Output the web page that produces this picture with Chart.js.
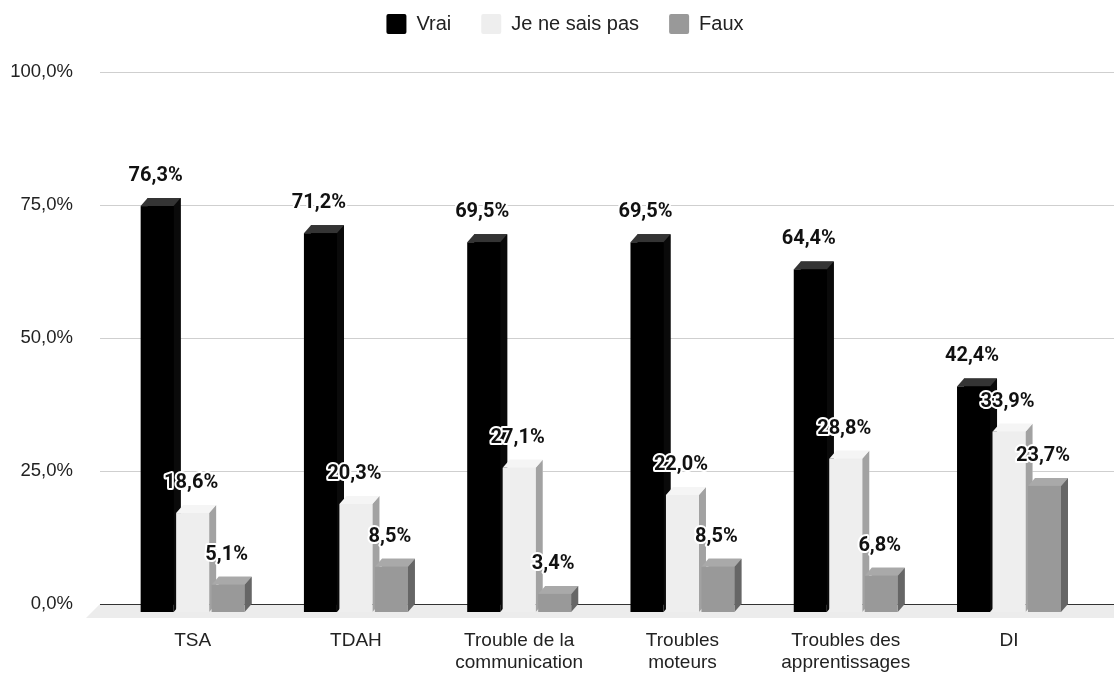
<!DOCTYPE html>
<html>
<head>
<meta charset="utf-8">
<script src="https://cdn.jsdelivr.net/npm/chart.js@4.4.1/dist/chart.umd.min.js"></script>
<style>
  html, body { margin: 0; padding: 0; background: #ffffff; overflow: hidden; }
  #wrap { position: relative; width: 1114px; height: 675px; }
</style>
</head>
<body>
<div id="wrap"><canvas id="c"></canvas></div>
<script>
// ---- Data ----
const categories = [
  'TSA',
  'TDAH',
  ['Trouble de la', 'communication'],
  ['Troubles', 'moteurs'],
  ['Troubles des', 'apprentissages'],
  'DI'
];
const seriesNames = ['Vrai', 'Je ne sais pas', 'Faux'];
const vrai = [76.3, 71.2, 69.5, 69.5, 64.4, 42.4];
const jeNeSaisPas = [18.6, 20.3, 27.1, 22.0, 28.8, 33.9];
const faux = [5.1, 8.5, 3.4, 8.5, 6.8, 23.7];
const yTicks = [0, 25, 50, 75, 100];

// ---- Styles ----
const frontColors = ['#000000', '#eeeeee', '#999999'];
const topColors = ['#343434', '#f5f5f5', '#a9a9a9'];
const sideColors = ['#0a0a0a', '#a2a2a2', '#666666'];
const DX = 7, DY = 8;
const fmt = v => v.toFixed(1).replace('.', ',') + '%';

const bars3d = {
  id: 'bars3d',
  beforeDatasetsDraw(chart) {
    const ctx = chart.ctx;
    const ys = chart.scales.y;
    const left = 100, right = chart.width;
    ctx.save();
    // grid lines (back plane)
    ctx.strokeStyle = '#cfcfcf';
    ctx.lineWidth = 1;
    ys.ticks.forEach(t => {
      if (t.value === 0) return;
      const py = Math.round(ys.getPixelForValue(t.value)) + 0.5;
      ctx.beginPath(); ctx.moveTo(left, py); ctx.lineTo(right, py); ctx.stroke();
    });
    // floor
    const zy = ys.getPixelForValue(0);
    ctx.fillStyle = '#ececec';
    ctx.beginPath();
    ctx.moveTo(left, zy);
    ctx.lineTo(right + 20, zy);
    ctx.lineTo(right + 20 - 2 * DX, zy + 2 * DY - 2);
    ctx.lineTo(left - 2 * DX, zy + 2 * DY - 2);
    ctx.closePath();
    ctx.fill();
    // zero line
    ctx.strokeStyle = '#333333';
    ctx.beginPath();
    ctx.moveTo(left, Math.round(zy) + 0.5); ctx.lineTo(right, Math.round(zy) + 0.5);
    ctx.stroke();
    ctx.restore();
  },
  afterDatasetsDraw(chart) {
    const ctx = chart.ctx;
    const n = chart.data.labels.length;
    const nd = chart.data.datasets.length;
    ctx.save();
    for (let i = 0; i < n; i++) {
      for (let d = 0; d < nd; d++) {
        const el = chart.getDatasetMeta(d).data[i];
        const p = el.getProps(['x', 'y', 'base', 'width'], true);
        const L = p.x - p.width / 2, R = p.x + p.width / 2;
        const fL = L - DX, fR = R - DX, fT = p.y + DY, fB = p.base + DY;
        // side face
        ctx.fillStyle = sideColors[d];
        ctx.beginPath();
        ctx.moveTo(fR, fT); ctx.lineTo(R, p.y); ctx.lineTo(R, p.base); ctx.lineTo(fR, fB);
        ctx.closePath(); ctx.fill();
        // top face
        ctx.fillStyle = topColors[d];
        ctx.beginPath();
        ctx.moveTo(fL, fT); ctx.lineTo(fR, fT); ctx.lineTo(R, p.y); ctx.lineTo(L, p.y);
        ctx.closePath(); ctx.fill();
        // front face
        ctx.fillStyle = frontColors[d];
        ctx.fillRect(fL, fT, p.width, fB - fT);
      }
    }
    // value labels
    ctx.font = 'bold 20px Roboto, "Liberation Sans", Arial, sans-serif';
    ctx.textAlign = 'center';
    ctx.textBaseline = 'middle';
    ctx.lineJoin = 'round';
    for (let i = 0; i < n; i++) {
      for (let d = 0; d < nd; d++) {
        const el = chart.getDatasetMeta(d).data[i];
        const v = chart.data.datasets[d].data[i];
        const tx = el.x - 8.5, ty = el.y - 22;
        ctx.strokeStyle = '#ffffff';
        ctx.lineWidth = 4;
        ctx.strokeText(fmt(v), tx, ty);
        ctx.fillStyle = '#111111';
        ctx.fillText(fmt(v), tx, ty);
      }
    }
    ctx.restore();
  }
};

const seriesData = [vrai, jeNeSaisPas, faux];
const chart = new Chart(document.getElementById('c'), {
  type: 'bar',
  data: {
    labels: categories,
    datasets: seriesNames.map((name, k) => ({
      label: name,
      data: seriesData[k],
      backgroundColor: frontColors[k],
      borderWidth: 0,
      categoryPercentage: 0.652,
      barPercentage: 0.93
    }))
  },
  options: {
    responsive: true,
    maintainAspectRatio: false,
    animation: false,
    layout: { padding: { top: -16, left: 4, right: -12, bottom: 0 } },
    plugins: {
      legend: {
        position: 'top',
        align: 'center',
        labels: {
          boxWidth: 20,
          boxHeight: 20,
          padding: 30,
          useBorderRadius: true,
          borderRadius: 2,
          color: '#222222',
          font: { family: '"Liberation Sans", Arial, sans-serif', size: 20 }
        }
      },
      subtitle: {
        display: true,
        text: '',
        position: 'top',
        weight: 500,
        padding: 0,
        font: { size: 14, lineHeight: 2 }
      },
      tooltip: { enabled: false }
    },
    scales: {
      x: {
        type: 'category',
        offset: true,
        grid: { display: false, drawTicks: false },
        border: { display: false },
        ticks: {
          labelOffset: -DX,
          padding: 25,
          autoSkip: false,
          maxRotation: 0,
          color: '#222222',
          font: { family: '"Liberation Sans", Arial, sans-serif', size: 19 }
        },
        afterFit(s) { s.height = 71; }
      },
      y: {
        min: 0,
        max: 100,
        grid: { display: false, drawTicks: false },
        border: { display: false },
        afterBuildTicks(s) { s.ticks = yTicks.map(v => ({ value: v })); },
        ticks: {
          padding: 45,
          color: '#222222',
          font: { family: '"Liberation Sans", Arial, sans-serif', size: 18.5 },
          callback: v => fmt(v)
        },
        afterFit(s) { s.width = 114; }
      },
      yRight: {
        position: 'right',
        min: 0,
        max: 100,
        grid: { display: false, drawTicks: false },
        border: { display: false },
        ticks: { display: false },
        afterFit(s) { s.width = 28.35; }
      }
    }
  },
  plugins: [bars3d]
});
</script>
</body>
</html>
